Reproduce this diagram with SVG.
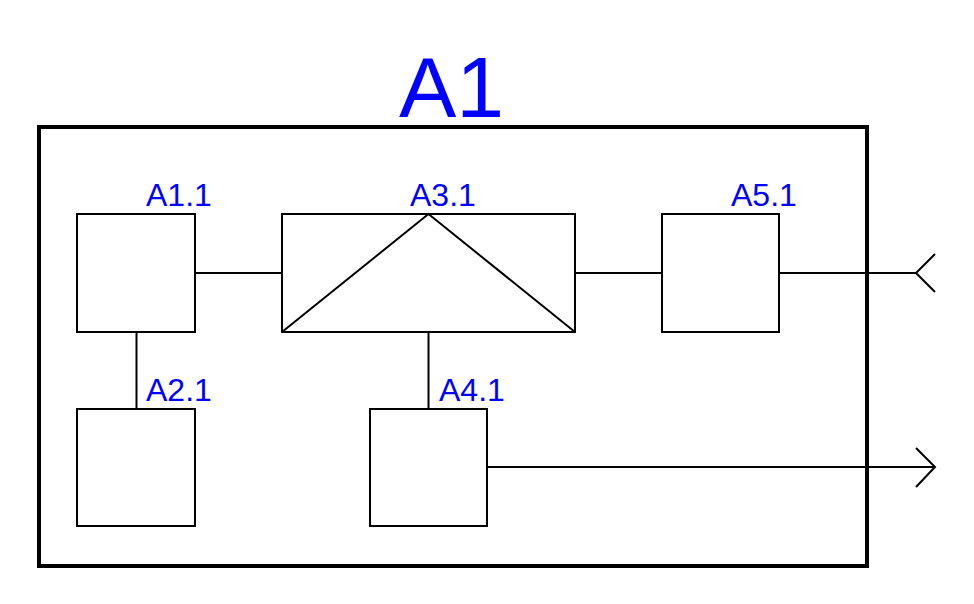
<svg xmlns="http://www.w3.org/2000/svg" width="974" height="604" viewBox="0 0 974 604">
<style>
.box{fill:#fff;stroke:#000;stroke-width:2}
.ln{fill:none;stroke:#000;stroke-width:2}
.lbl{font-family:"Liberation Sans",Arial,sans-serif;font-size:32px;fill:#0000ff}
.title{font-family:"Liberation Sans",Arial,sans-serif;font-size:86px;fill:#0000ff}
</style>
<rect width="974" height="604" fill="#fff"/>
<g id="A1">
<rect x="39" y="127" width="828" height="439" fill="none" stroke="#000" stroke-width="4"/>
<text class="title" x="399" y="117">A1</text>
</g>
<g id="connectors">
<line class="ln" x1="195" y1="273" x2="282" y2="273"/>
<line class="ln" x1="575" y1="273" x2="662" y2="273"/>
<line class="ln" x1="779" y1="273" x2="916" y2="273"/>
<polyline class="ln" points="935,254 916,273 935,292"/>
<line class="ln" x1="487" y1="467" x2="935" y2="467"/>
<polyline class="ln" points="916,448 935,467 916,487"/>
<line class="ln" x1="136.5" y1="332" x2="136.5" y2="409"/>
<line class="ln" x1="428.5" y1="332" x2="428.5" y2="409"/>
</g>
<g id="A1.1">
<rect class="box" x="77" y="214" width="118" height="118"/>
<text class="lbl" x="146" y="206">A1.1</text>
</g>
<g id="A3.1">
<rect class="box" x="282" y="214" width="293" height="118"/>
<polyline class="ln" points="282,332 428.5,214 575,332"/>
<text class="lbl" x="410" y="206">A3.1</text>
</g>
<g id="A5.1">
<rect class="box" x="662" y="214" width="117" height="118"/>
<text class="lbl" x="731" y="206">A5.1</text>
</g>
<g id="A2.1">
<rect class="box" x="77" y="409" width="118" height="117"/>
<text class="lbl" x="146" y="401">A2.1</text>
</g>
<g id="A4.1">
<rect class="box" x="370" y="409" width="117" height="117"/>
<text class="lbl" x="439" y="401">A4.1</text>
</g>
</svg>
